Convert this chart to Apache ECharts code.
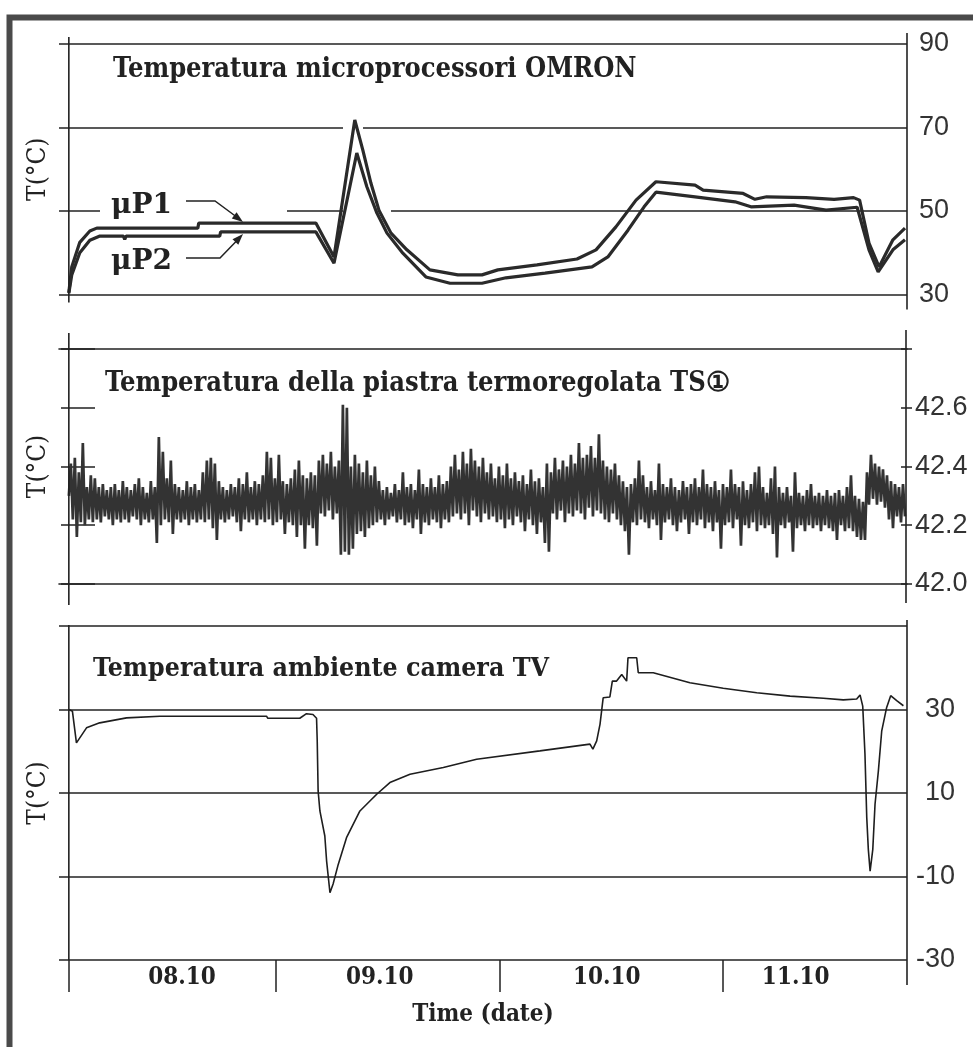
<!DOCTYPE html>
<html><head><meta charset="utf-8">
<script src="https://cdn.jsdelivr.net/npm/echarts@6/dist/echarts.min.js"></script>
<style>html,body{margin:0;padding:0;background:#fff}#c{width:973px;height:1047px}</style>
</head><body><div id="c"></div>
<script>
// ---- axis ranges / ticks (days of October) ----
const dayAxisMin = 8.03, dayAxisMax = 11.823;
const dayTicks = [8.074, 9, 10, 11];
const dateLabels = ['08.10', '09.10', '10.10', '11.10'];
const dateLabelPos = [8.58, 9.465, 10.48, 11.325];

// ---- panel 1: OMRON microprocessors (day, °C) ----
const mp1 = [[8.074,30.5],[8.087,36.6],[8.123,42.5],[8.168,45.2],[8.199,45.9],[8.651,45.9],[8.655,47.1],[9.179,47.1],[9.260,39.0],[9.353,71.8],[9.389,64.6],[9.425,56.7],[9.461,50.2],[9.515,44.7],[9.586,40.7],[9.689,35.9],[9.814,34.7],[9.922,34.7],[9.993,35.9],[10.168,37.1],[10.347,38.5],[10.432,40.7],[10.521,46.2],[10.611,52.6],[10.700,57.0],[10.875,56.2],[10.911,55.0],[11.090,54.2],[11.143,52.8],[11.195,53.4],[11.371,53.2],[11.497,52.8],[11.584,53.2],[11.611,52.6],[11.653,42.3],[11.698,36.6],[11.760,43.1],[11.814,45.9]];
const mp2 = [[8.074,30.3],[8.087,34.7],[8.123,40.0],[8.168,43.0],[8.213,44.0],[8.318,44.0],[8.324,43.2],[8.330,44.0],[8.749,44.0],[8.753,45.0],[9.179,45.0],[9.260,37.5],[9.362,63.9],[9.407,55.8],[9.452,49.5],[9.497,44.7],[9.568,39.9],[9.671,34.2],[9.779,32.7],[9.922,32.7],[10.029,34.0],[10.204,35.1],[10.414,36.6],[10.485,39.0],[10.575,45.4],[10.647,51.0],[10.700,54.5],[10.875,53.4],[11.054,52.2],[11.125,51.0],[11.318,51.4],[11.461,50.2],[11.600,50.9],[11.653,40.7],[11.694,35.4],[11.760,40.7],[11.814,43.1]];

// ---- panel 2: thermoregulated plate TS1, evenly sampled from start to end day ----
const plateStartDay = 8.074, plateEndDay = 11.814;
const plateTemp = [
42.30,42.41,42.22,42.43,42.16,42.38,42.21,42.48,42.20,42.33,42.22,42.37,42.21,42.36,42.22,42.33,42.21,42.34,42.23,42.32,
42.22,42.33,42.20,42.34,42.22,42.32,42.21,42.35,42.22,42.33,42.21,42.32,42.23,42.34,42.22,42.36,42.20,42.33,42.22,42.31,
42.21,42.35,42.22,42.33,42.14,42.50,42.20,42.45,42.22,42.36,42.21,42.42,42.17,42.34,42.22,42.33,42.21,42.32,42.22,42.35,
42.20,42.33,42.22,42.34,42.21,42.32,42.22,42.38,42.21,42.42,42.22,42.43,42.19,42.41,42.15,42.35,42.22,42.33,42.21,42.32,
42.22,42.34,42.23,42.33,42.21,42.36,42.18,42.34,42.22,42.38,42.21,42.33,42.22,42.35,42.20,42.34,42.22,42.37,42.21,42.45,
42.22,42.43,42.20,42.36,42.21,42.44,42.22,42.35,42.17,42.34,42.21,42.36,42.20,42.39,42.16,42.42,42.20,42.37,42.12,42.36,
42.20,42.38,42.19,42.37,42.13,42.42,42.24,42.44,42.23,42.41,42.25,42.45,42.22,42.40,42.24,42.42,42.10,42.61,42.11,42.60,
42.10,42.40,42.12,42.44,42.17,42.41,42.18,42.38,42.16,42.42,42.19,42.37,42.20,42.40,42.21,42.35,42.22,42.32,42.20,42.33,
42.22,42.31,42.23,42.34,42.21,42.32,42.22,42.38,42.20,42.33,42.21,42.34,42.19,42.32,42.22,42.39,42.17,42.34,42.21,42.33,
42.20,42.36,42.22,42.33,42.21,42.37,42.19,42.34,42.22,42.35,42.21,42.40,42.23,42.44,42.24,42.39,42.22,42.45,42.24,42.41,
42.20,42.46,42.25,42.42,42.23,42.40,42.21,42.43,42.24,42.38,42.22,42.41,42.23,42.36,42.21,42.40,42.22,42.37,42.19,42.41,
42.22,42.36,42.20,42.38,42.23,42.35,42.21,42.37,42.18,42.34,42.22,42.39,42.20,42.35,42.17,42.36,42.21,42.33,42.14,42.41,
42.11,42.38,42.24,42.43,42.22,42.39,42.25,42.42,42.21,42.40,42.24,42.44,42.23,42.41,42.25,42.48,42.24,42.43,42.22,42.44,
42.26,42.47,42.23,42.43,42.25,42.51,42.24,42.42,42.22,42.40,42.21,42.39,42.24,42.41,42.22,42.37,42.20,42.35,42.18,42.33,
42.10,42.34,42.21,42.36,42.20,42.42,42.22,42.37,42.21,42.33,42.19,42.35,42.22,42.32,42.20,42.41,42.15,42.34,42.21,42.33,
42.22,42.36,42.20,42.33,42.18,42.32,42.21,42.35,42.22,42.33,42.17,42.34,42.21,42.36,42.20,42.33,42.22,42.39,42.19,42.34,
42.21,42.33,42.18,42.35,42.21,42.32,42.12,42.34,42.20,42.33,42.21,42.39,42.19,42.34,42.22,42.33,42.13,42.35,42.20,42.32,
42.19,42.34,42.21,42.38,42.18,42.40,42.20,42.33,42.19,42.31,42.20,42.36,42.17,42.40,42.09,42.33,42.20,42.31,42.19,42.33,
42.21,42.30,42.11,42.38,42.19,42.31,42.20,42.30,42.18,42.32,42.20,42.34,42.19,42.30,42.20,42.31,42.18,42.30,42.20,42.32,
42.19,42.30,42.18,42.31,42.15,42.32,42.20,42.30,42.18,42.33,42.19,42.37,42.18,42.30,42.16,42.29,42.15,42.28,42.15,42.38,
42.27,42.44,42.29,42.41,42.27,42.40,42.28,42.39,42.26,42.37,42.22,42.35,42.19,42.34,42.23,42.33,42.21,42.34,42.23
];

// ---- panel 3: TV camera ambient temperature (day, °C) ----
const roomTemp = [[8.074,30.0],[8.090,29.6],[8.108,22.0],[8.153,25.6],[8.212,26.8],[8.332,28.0],[8.481,28.4],[8.958,28.4],[8.964,27.9],[9.107,27.9],[9.137,29.0],[9.166,28.8],[9.182,27.9],[9.185,22.5],[9.189,10.5],[9.197,5.7],[9.219,-0.3],[9.227,-6.3],[9.242,-13.9],[9.256,-11.8],[9.279,-7.1],[9.316,-0.7],[9.376,5.7],[9.451,9.7],[9.510,12.5],[9.600,14.5],[9.749,16.1],[9.898,18.1],[10.181,20.1],[10.405,21.7],[10.418,20.5],[10.435,22.5],[10.450,26.5],[10.464,32.8],[10.494,33.0],[10.505,36.8],[10.524,36.8],[10.547,38.4],[10.569,36.8],[10.575,42.4],[10.614,42.4],[10.621,38.8],[10.688,38.8],[10.852,36.4],[11.001,35.1],[11.151,34.0],[11.300,33.2],[11.449,32.7],[11.538,32.3],[11.598,32.5],[11.613,33.5],[11.625,30.8],[11.635,19.3],[11.643,4.1],[11.650,-3.5],[11.658,-8.7],[11.670,-3.5],[11.680,7.3],[11.695,15.3],[11.710,24.9],[11.732,30.5],[11.750,33.3],[11.777,32.1],[11.807,30.9]];

// ---- texts ----
const panelTitles = ['Temperatura microprocessori OMRON', 'Temperatura della piastra termoregolata TS\u2460', 'Temperatura ambiente camera TV'];
const yName = 'T(°C)';
const xName = 'Time (date)';
const seriesNames = ['μP1', 'μP2'];

// ---- styles ----
const INK = '#222';
const serifC = "'DejaVu Serif Condensed','DejaVu Serif',serif";
const tickFont = {fontFamily: "'Liberation Sans',Arial,sans-serif", fontSize: 27, color: '#333'};
const nameStyle = {fontFamily: serifC, fontSize: 26, color: INK};
const gridLine = {color: INK, width: 1.6};

const plateData = plateTemp.map((v, i) => [plateStartDay + i * (plateEndDay - plateStartDay) / (plateTemp.length - 1), v]);

function xHidden(grid) {
  return {type: 'value', gridIndex: grid, min: dayAxisMin, max: dayAxisMax, show: false};
}
function leftName(grid, min, max, gap) {
  return {type: 'value', gridIndex: grid, position: 'left', min: min, max: max,
    axisLine: {show: false}, axisTick: {show: false}, axisLabel: {show: false}, splitLine: {show: false},
    name: yName, nameLocation: 'middle', nameRotate: 90, nameGap: gap, nameTextStyle: nameStyle};
}

const option = {
  animation: false,
  backgroundColor: '#fff',
  title: panelTitles.map((t, i) => ({
    text: t, left: [113, 105, 93][i], top: [56, 370, 656][i], padding: 0,
    textStyle: {fontFamily: serifC, fontWeight: 'bold', fontSize: [27, 27, 26.5][i], color: INK}
  })),
  grid: [
    {left: 59, right: 66, top: 44, height: 250.5},
    {left: 59, right: 66, top: 349, height: 235},
    {left: 59, right: 66, top: 626, height: 334}
  ],
  xAxis: [
    xHidden(0),
    {type: 'value', gridIndex: 1, min: dayAxisMin, max: dayAxisMax, position: 'bottom',
      axisLine: {show: true, onZero: false, lineStyle: gridLine}, axisTick: {show: false}, axisLabel: {show: false}, splitLine: {show: false}},
    {type: 'value', gridIndex: 1, min: dayAxisMin, max: dayAxisMax, position: 'top',
      axisLine: {show: true, onZero: false, lineStyle: gridLine}, axisTick: {show: false}, axisLabel: {show: false}, splitLine: {show: false}},
    {type: 'value', gridIndex: 2, min: dayAxisMin, max: dayAxisMax, position: 'bottom',
      axisLine: {show: false, onZero: false},
      axisTick: {show: true, customValues: dayTicks, length: 32, lineStyle: {color: INK, width: 1.5}},
      axisLabel: {show: true, customValues: dateLabelPos, margin: 6,
        formatter: function (v) {
          let best = 0;
          dateLabelPos.forEach((p, i) => { if (Math.abs(p - v) < Math.abs(dateLabelPos[best] - v)) best = i; });
          return dateLabels[best];
        },
        fontFamily: serifC, fontWeight: 'bold', fontSize: 24, color: INK},
      splitLine: {show: false},
      name: xName, nameLocation: 'middle', nameGap: 43,
      nameTextStyle: {fontFamily: serifC, fontWeight: 'bold', fontSize: 24, color: INK}}
  ],
  yAxis: [
    // 0 panel 1 right
    {type: 'value', gridIndex: 0, position: 'right', min: 30, max: 90, interval: 20,
      axisLine: {show: false}, axisTick: {show: false},
      axisLabel: Object.assign({margin: 12}, tickFont),
      splitLine: {show: true, lineStyle: gridLine}},
    // 1 panel 1 left (name)
    leftName(0, 30, 90, 8),
    // 2 panel 2 right labels + outer ticks
    {type: 'value', gridIndex: 1, position: 'right', min: 42.0, max: 42.8, interval: 0.2,
      axisLine: {show: false},
      axisTick: {show: true, length: 5, lineStyle: {color: INK, width: 1.5}},
      axisLabel: Object.assign({margin: 8, formatter: v => (v > 42.7 ? '' : v.toFixed(1))}, tickFont),
      splitLine: {show: false}},
    // 3 panel 2 right inner ticks
    {type: 'value', gridIndex: 1, position: 'right', min: 42.0, max: 42.8, interval: 0.2,
      axisLine: {show: false},
      axisTick: {show: true, inside: true, length: 6, lineStyle: {color: INK, width: 1.5}},
      axisLabel: {show: false}, splitLine: {show: false}},
    // 4 panel 2 left inner ticks + name
    Object.assign(leftName(1, 42.0, 42.8, 18), {interval: 0.2, offset: -10,
      axisTick: {show: true, inside: true, length: 26, lineStyle: {color: INK, width: 1.5}}}),
    // 5 panel 2 left outer ticks
    {type: 'value', gridIndex: 1, position: 'left', min: 42.0, max: 42.8, interval: 0.2, offset: -10,
      axisLine: {show: false},
      axisTick: {show: true, length: 8, lineStyle: {color: INK, width: 1.5}},
      axisLabel: {show: false}, splitLine: {show: false}},
    // 6 panel 3 right
    {type: 'value', gridIndex: 2, position: 'right', min: -30, max: 50, interval: 20,
      axisLine: {show: false}, axisTick: {show: false},
      axisLabel: Object.assign({margin: 48, align: 'right', formatter: v => (v > 40 ? '' : String(v))}, tickFont),
      splitLine: {show: true, lineStyle: gridLine}},
    // 7 panel 3 left (name)
    leftName(2, -30, 50, 8)
  ],
  series: [
    {name: seriesNames[0], type: 'line', xAxisIndex: 0, yAxisIndex: 0, data: mp1, showSymbol: false, symbol: 'none',
      lineStyle: {color: '#2a2a2a', width: 3.2}, z: 3},
    {name: seriesNames[1], type: 'line', xAxisIndex: 0, yAxisIndex: 0, data: mp2, showSymbol: false, symbol: 'none',
      lineStyle: {color: '#2a2a2a', width: 3.2}, z: 3},
    {name: 'TS1', type: 'line', xAxisIndex: 1, yAxisIndex: 2, data: plateData, showSymbol: false, symbol: 'none',
      lineStyle: {color: '#333', width: 2.7, join: 'bevel'}, z: 3},
    {name: 'camera TV', type: 'line', xAxisIndex: 3, yAxisIndex: 6, data: roomTemp, showSymbol: false, symbol: 'none',
      lineStyle: {color: '#1e1e1e', width: 1.6}, z: 3}
  ]
};

const chart = echarts.init(document.getElementById('c'), null, {renderer: 'canvas'});
chart.setOption(option);

// ---- decorations anchored to the library's scales ----
const X = (gi, d) => chart.convertToPixel({xAxisIndex: gi}, d);
const Y = (ai, v) => chart.convertToPixel({yAxisIndex: ai}, v);
const vline = (x, y1, y2) => ({type: 'line', z: 10, shape: {x1: x, y1: y1, x2: x, y2: y2}, style: {stroke: INK, lineWidth: 1.6}});
const whiteBox = (x1, x2, yc) => ({type: 'rect', z: 1, shape: {x: x1, y: yc - 4, width: x2 - x1, height: 8}, style: {fill: '#fff'}});

const xl = X(0, dayTicks[0]), xr = X(0, dayAxisMax);
const g = [];
// frame of the scanned figure
g.push({type: 'rect', z: 20, shape: {x: 9.5, y: 17.5, width: 1000, height: 1100}, style: {fill: 'none', stroke: '#4a4a4a', lineWidth: 6}});
// vertical axis lines
g.push(vline(xl, Y(0, 90) - 7, Y(0, 30) + 8));
g.push(vline(xr, Y(0, 90) - 11, Y(0, 30) + 15));
g.push(vline(xl, Y(2, 42.8) - 16, Y(2, 42.0) + 21));
g.push(vline(xr - 1, Y(2, 42.8) - 19, Y(2, 42.0) + 19));
g.push(vline(xl, Y(6, 50) - 1, Y(6, -30)));
g.push(vline(xr, Y(6, 50) - 6, Y(6, -30) + 25));
// gaps in panel-1 grid lines
g.push(whiteBox(100, 287, Y(0, 50)));
g.push(whiteBox(343, 391, Y(0, 50)));
g.push(whiteBox(343, 363, Y(0, 70)));
// μP labels with arrows
const lbl = (t, x, y) => ({type: 'text', z: 12, style: {text: t, x: x, y: y, font: "bold 28px 'DejaVu Serif'", fill: INK, textVerticalAlign: 'middle'}});
g.push(lbl(seriesNames[0], 111, 206));
g.push(lbl(seriesNames[1], 111, 262));
g.push({type: 'polyline', z: 12, shape: {points: [[186, 201], [215, 201], [236, 216.5]]}, style: {stroke: INK, lineWidth: 1.5, fill: 'none'}});
g.push({type: 'polygon', z: 12, shape: {points: [[243, 222], [231.8, 218.6], [236.6, 212.2]]}, style: {fill: INK}});
g.push({type: 'polyline', z: 12, shape: {points: [[186, 258], [220, 258], [236.5, 241]]}, style: {stroke: INK, lineWidth: 1.5, fill: 'none'}});
g.push({type: 'polygon', z: 12, shape: {points: [[243, 234], [238.3, 244.8], [232.5, 239.2]]}, style: {fill: INK}});
chart.setOption({graphic: g});
</script></body></html>
